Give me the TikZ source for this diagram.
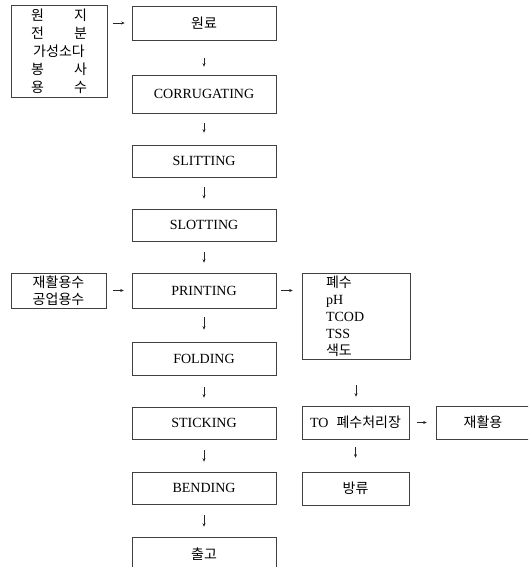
\documentclass[tikz,border=0pt]{standalone}
\usepackage{fontspec}
\setmainfont{Liberation Serif}
\newfontfamily\kr{Noto Sans CJK KR}
\usetikzlibrary{arrows.meta}
\begin{document}
\begin{tikzpicture}[x=1pt,y=-1pt,
  box/.style={draw=black!75, line width=0.6pt, inner sep=0pt, align=center,
    font=\fontsize{14}{17}\selectfont},
  krbox/.style={box, font=\kr\fontsize{14}{17}\selectfont},
  main/.style={minimum width=144pt},
  arr/.style={draw=black!85, line width=0.5pt, -{Stealth[length=3.5pt,width=3pt]}},
]
\useasboundingbox (0,0) rectangle (528,567);
\clip (0,0) rectangle (528,567);

% main column
\node[krbox, main, minimum height=34pt] (won)   at (204,23)    {원료};
\node[box,   main, minimum height=38pt] (corr)  at (204,94)    {CORRUGATING};
\node[box,   main, minimum height=32pt] (slit)  at (204,161)   {SLITTING};
\node[box,   main, minimum height=32pt] (slot)  at (204,225)   {SLOTTING};
\node[box,   main, minimum height=35pt] (print) at (204,290.5) {PRINTING};
\node[box,   main, minimum height=33pt] (fold)  at (204,358.5) {FOLDING};
\node[box,   main, minimum height=32pt] (stick) at (204,423)   {STICKING};
\node[box,   main, minimum height=32pt] (bend)  at (204,488)   {BENDING};
\node[krbox, main, minimum height=34pt] (out)   at (204,554)   {출고};

% inputs
\node[krbox, minimum width=96pt, minimum height=92pt, font=\kr\fontsize{14}{18}\selectfont] (src1) at (59,51)
  {\makebox[56pt][s]{원\hfill 지}\\ \makebox[56pt][s]{전\hfill 분}\\ 가성소다\\ \makebox[56pt][s]{봉\hfill 사}\\ \makebox[56pt][s]{용\hfill 수}};
\node[krbox, minimum width=95pt, minimum height=35pt] (src2) at (58.5,290.5) {재활용수\\공업용수};

% waste water branch
\node[box, minimum width=108pt, minimum height=86pt, text width=60pt, align=left] (wq) at (356,316)
  {{\kr 폐수}\\pH\\TCOD\\TSS\\{\kr 색도}};
\node[box, minimum width=107pt, minimum height=33pt] (to) at (355.5,422.5) {TO\hspace{8pt}{\kr 폐수처리장}};
\node[krbox, minimum width=94pt, minimum height=33pt] (re) at (483,422.5) {재활용};
\node[krbox, minimum width=107pt, minimum height=33pt] (bang) at (355.5,488.5) {방류};

% connectors
\draw[arr, shorten <=6pt, shorten >=7pt] (src1.east |- won) -- (won.west);
\draw[arr, shorten <=18pt, shorten >=8pt] (won) -- (corr);
\draw[arr, shorten <=10pt, shorten >=12pt] (corr) -- (slit);
\draw[arr, shorten <=10pt, shorten >=10pt] (slit) -- (slot);
\draw[arr, shorten <=11pt, shorten >=10pt] (slot) -- (print);
\draw[arr, shorten <=9pt, shorten >=12pt] (print) -- (fold);
\draw[arr, shorten <=12pt, shorten >=9pt] (fold) -- (stick);
\draw[arr, shorten <=11pt, shorten >=10pt] (stick) -- (bend);
\draw[arr, shorten <=11pt, shorten >=10pt] (bend) -- (out);
\draw[arr, shorten <=7pt, shorten >=8pt] (src2) -- (print);
\draw[arr, shorten <=5pt, shorten >=9pt] (print) -- (wq.west |- print);
\draw[arr, shorten <=26pt, shorten >=9pt] (wq.south) -- (wq.south |- to.north);
\draw[arr, shorten <=8pt, shorten >=9pt] (to) -- (re);
\draw[arr, shorten <=8pt, shorten >=14pt] (to) -- (bang);
\end{tikzpicture}
\end{document}
